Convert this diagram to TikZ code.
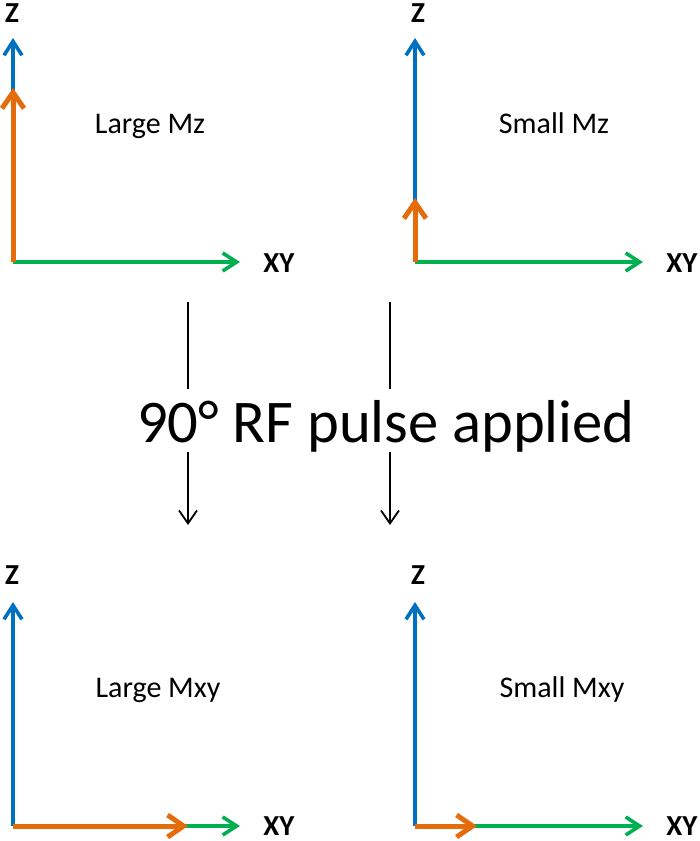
\documentclass[tikz,border=0pt]{standalone}
\usepackage{fontspec}
\setmainfont{Carlito}
\usetikzlibrary{arrows.meta}
\definecolor{zblue}{HTML}{0070C0}
\definecolor{morange}{HTML}{E46C0A}
\definecolor{xygreen}{HTML}{00B050}

\begin{document}
\begin{tikzpicture}[x=0.5pt,y=-0.5pt,
  axis/.style={line width=1.8pt,-{Straight Barb[length=7pt,width=9pt]}},
  mvec/.style={line width=2.5pt,color=morange,-{Straight Barb[length=8pt,width=11pt]}},
  flow/.style={line width=0.9pt,-{Straight Barb[length=6.5pt,width=9pt]}},
  axlabel/.style={font=\fontsize{14.5}{14.5}\selectfont\bfseries,inner sep=0pt},
  caption/.style={font=\fontsize{15}{15}\selectfont,inner sep=0pt,anchor=base}]

\useasboundingbox (0,0) rectangle (700,841);

% top left: large Mz
\coordinate (0) at (13,262);
\coordinate (0z) at (13,38);
\coordinate (0x) at (240,262);
\coordinate (0m) at (13,88);
\node[axlabel,anchor=base] (0zl) at (12,22) {Z};
\node[axlabel,anchor=base west] (0xl) at (263,272) {XY};
\node[caption] (0t) at (150,133) {Large Mz};

% top right: small Mz
\coordinate (1) at (415,262);
\coordinate (1z) at (415,38);
\coordinate (1x) at (643,262);
\coordinate (1m) at (415,198);
\node[axlabel,anchor=base] (1zl) at (418,22) {Z};
\node[axlabel,anchor=base west] (1xl) at (666,272) {XY};
\node[caption] (1t) at (554,133) {Small Mz};

% bottom left: large Mxy
\coordinate (2) at (13,826);
\coordinate (2z) at (13,602);
\coordinate (2x) at (240,826);
\coordinate (2m) at (188,826);
\node[axlabel,anchor=base] (2zl) at (12,584) {Z};
\node[axlabel,anchor=base west] (2xl) at (263,835) {XY};
\node[caption] (2t) at (158,697) {Large Mxy};

% bottom right: small Mxy
\coordinate (3) at (415,826);
\coordinate (3z) at (415,602);
\coordinate (3x) at (643,826);
\coordinate (3m) at (477,826);
\node[axlabel,anchor=base] (3zl) at (418,584) {Z};
\node[axlabel,anchor=base west] (3xl) at (666,835) {XY};
\node[caption] (3t) at (562,697) {Small Mxy};

\draw[axis,zblue] (0) -- (0z);
\draw[axis,xygreen] (0) -- (0x);
\draw[mvec] (0) -- (0m);

\draw[axis,zblue] (1) -- (1z);
\draw[axis,xygreen] (1) -- (1x);
\draw[mvec] (1) -- (1m);

\draw[axis,zblue] (2) -- (2z);
\draw[axis,xygreen] (2) -- (2x);
\draw[mvec] (2) -- (2m);

\draw[axis,zblue] (3) -- (3z);
\draw[axis,xygreen] (3) -- (3x);
\draw[mvec] (3) -- (3m);

% pulse
\node[font=\fontsize{30.3}{30.3}\selectfont,inner sep=0pt,anchor=base] (p) at (386,442) {90° RF pulse applied};

\coordinate (a0) at (188,302);
\coordinate (a1) at (188,389);
\coordinate (a2) at (188,452);
\coordinate (a3) at (188,525);
\coordinate (b0) at (390,302);
\coordinate (b1) at (390,389);
\coordinate (b2) at (390,452);
\coordinate (b3) at (390,525);

\draw[line width=0.9pt] (a0) -- (a1);
\draw[flow] (a2) -- (a3);
\draw[line width=0.9pt] (b0) -- (b1);
\draw[flow] (b2) -- (b3);

\end{tikzpicture}
\end{document}
